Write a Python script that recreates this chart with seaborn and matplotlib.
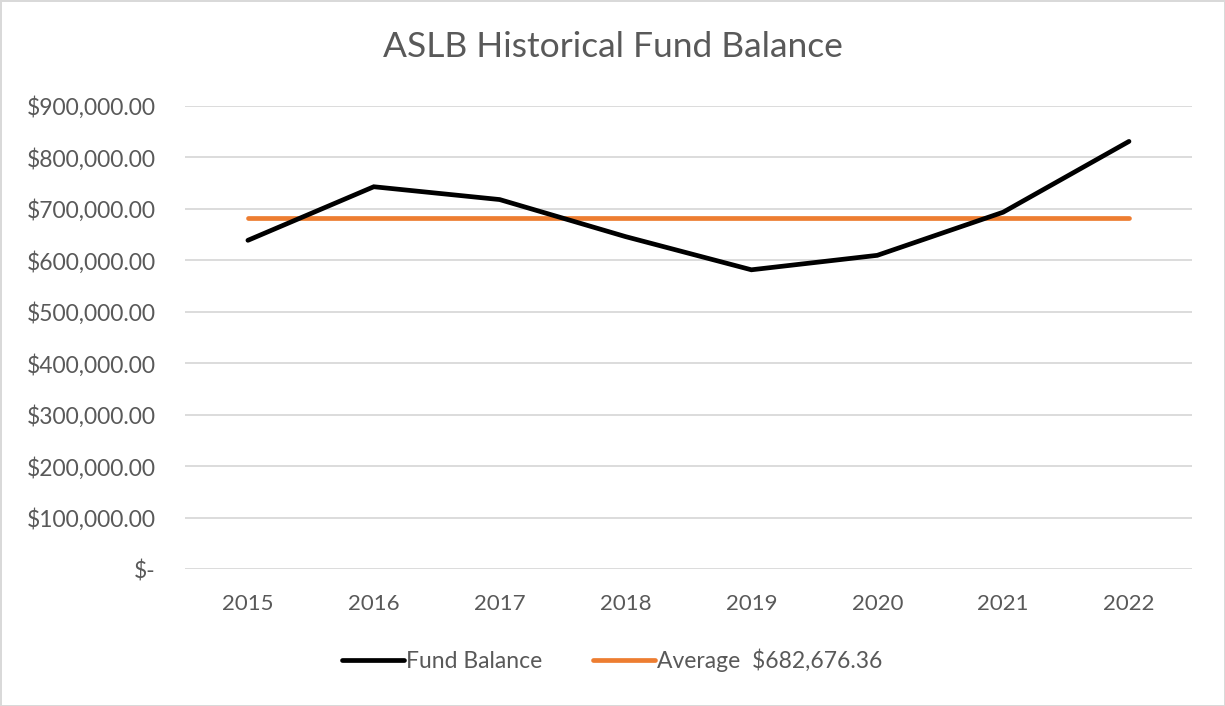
import numpy as np
import pandas as pd
import matplotlib.pyplot as plt
import seaborn as sns
from matplotlib.lines import Line2D

# Datos
years = ['2015', '2016', '2017', '2018', '2019', '2020', '2021', '2022']
fund_balance = [638800, 742900, 718000, 646000, 581500, 609600, 693400, 831000]
average = 682676.36
y_ticks = [0, 100000, 200000, 300000, 400000, 500000, 600000, 700000, 800000, 900000]

df = pd.DataFrame({'Year': years, 'Fund Balance': fund_balance})
df['Average'] = average

sns.set_style('white')
plt.rcParams['font.family'] = ['Lato', 'DejaVu Sans']

text_color = '#595959'
grid_color = '#D9D9D9'

fig = plt.figure(figsize=(12.25, 7.06), dpi=100)
fig.patch.set_edgecolor(grid_color)
fig.patch.set_linewidth(2)
ax = fig.add_axes([0.151, 0.194, 0.822, 0.656])

sns.lineplot(data=df, x='Year', y='Fund Balance', color='black', linewidth=3.4,
             ax=ax, solid_capstyle='round', solid_joinstyle='miter', zorder=3)
sns.lineplot(data=df, x='Year', y='Average', color='#ED7D31', linewidth=3.4,
             ax=ax, solid_capstyle='round', zorder=2)

ax.set_xlim(-0.5, len(years) - 0.5)
ax.set_ylim(0, 900000)
ax.set_yticks(y_ticks)
ax.set_yticklabels(['$-' if v == 0 else f'${v:,.2f}' for v in y_ticks])
ax.grid(axis='y', color=grid_color, linewidth=1.3)
ax.set_axisbelow(True)
for s in ax.spines.values():
    s.set_visible(False)
ax.set_xlabel('')
ax.set_ylabel('')
ax.tick_params(axis='both', length=0, colors=text_color)
ax.tick_params(axis='x', pad=18, labelsize=16)
ax.tick_params(axis='y', pad=21, labelsize=16.5)

fig.text(0.5, 0.933, 'ASLB Historical Fund Balance', ha='center', va='center',
         fontsize=25.5, color=text_color)

handles = [Line2D([], [], color='black', linewidth=3.4, solid_capstyle='round'),
           Line2D([], [], color='#ED7D31', linewidth=3.4, solid_capstyle='round')]
fig.legend(handles, ['Fund Balance', 'Average  $682,676.36'], loc='center',
           bbox_to_anchor=(0.5, 0.065), ncol=2, frameon=False, fontsize=16.5,
           labelcolor=text_color, handlelength=2.7, handletextpad=0.1,
           columnspacing=2.2)

fig.savefig('out.png', dpi=100, edgecolor=fig.get_edgecolor())
